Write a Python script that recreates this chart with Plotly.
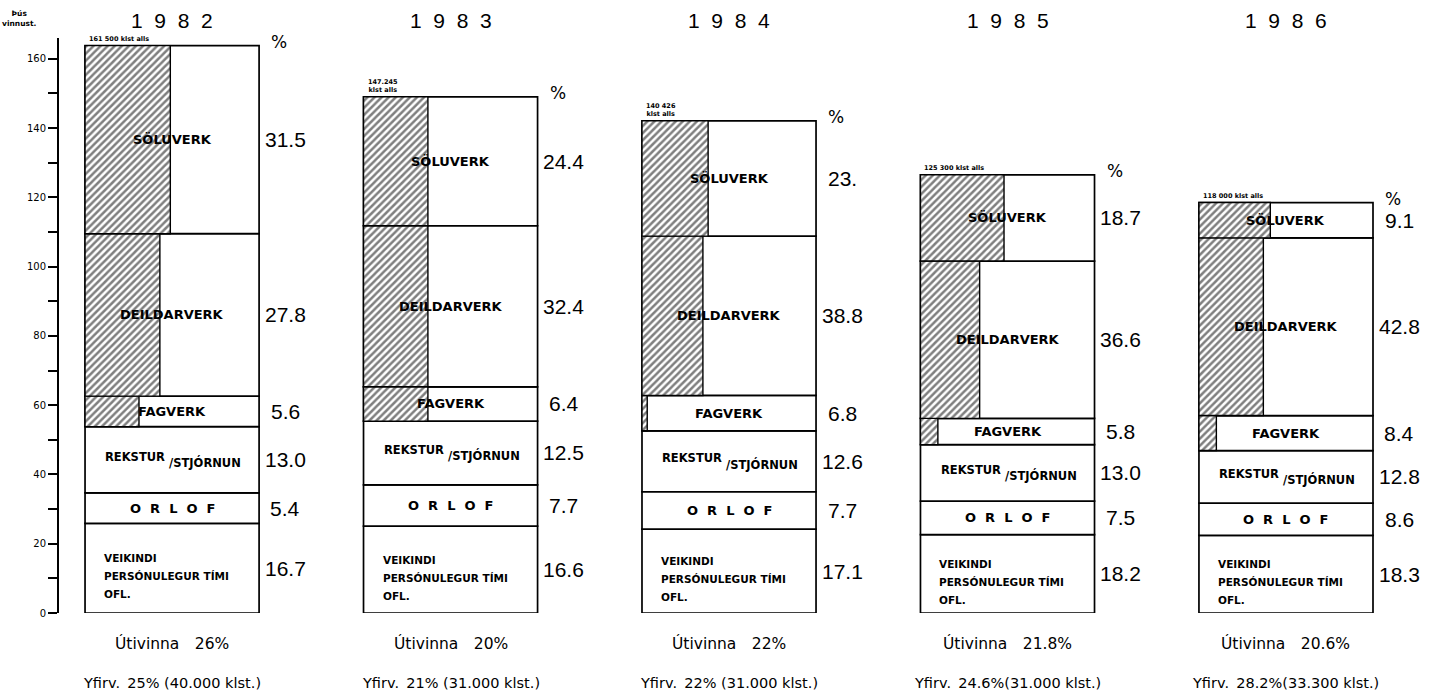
import plotly.graph_objects as go

# ---------------- data ----------------
years = [1982, 1983, 1984, 1985, 1986]

# segment heights, thousand work hours (bottom -> top)
veikindi = [25.9, 25.1, 24.2, 22.6, 22.4]
orlof = [8.8, 11.9, 10.8, 9.7, 9.3]
rekstur = [19.1, 18.4, 17.6, 16.3, 15.2]
fagverk = [8.8, 9.9, 10.2, 7.6, 10.1]
deildarverk = [46.9, 46.5, 46.0, 45.4, 51.3]
soluverk = [54.3, 37.2, 33.3, 24.9, 10.2]

# hatched (left) share of each split segment
fag_hatch = [0.31, 0.37, 0.03, 0.10, 0.10]
deild_hatch = [0.43, 0.37, 0.35, 0.34, 0.37]
sol_hatch = [0.49, 0.37, 0.38, 0.48, 0.41]

# percentage labels printed right of each bar
pct_veik = ["16.7", "16.6", "17.1", "18.2", "18.3"]
pct_orlof = ["5.4", "7.7", "7.7", "7.5", "8.6"]
pct_rek = ["13.0", "12.5", "12.6", "13.0", "12.8"]
pct_fag = ["5.6", "6.4", "6.8", "5.8", "8.4"]
pct_deild = ["27.8", "32.4", "38.8", "36.6", "42.8"]
pct_sol = ["31.5", "24.4", "23.", "18.7", "9.1"]

total_labels = ["161 500 klst alls", "147.245<br>klst alls", "140 426<br>klst alls",
                "125 300 klst alls", "118 000 klst alls"]
utivinna = ["26%", "20%", "22%", "21.8%", "20.6%"]
yfirv = ["25% (40.000 klst.)", "21% (31.000 klst.)", "22% (31.000 klst.)",
         "24.6%(31.000 klst.)", "28.2%(33.300 klst.)"]

y_ticks = [0, 20, 40, 60, 80, 100, 120, 140, 160]

# ---------------- figure ----------------
W = 0.625
segments = [
    ("VEIKINDI", veikindi, None, pct_veik),
    ("ORLOF", orlof, None, pct_orlof),
    ("REKSTUR/STJÓRNUN", rekstur, None, pct_rek),
    ("FAGVERK", fagverk, fag_hatch, pct_fag),
    ("DEILDARVERK", deildarverk, deild_hatch, pct_deild),
    ("SÖLUVERK", soluverk, sol_hatch, pct_sol),
]

bases = []
run = [0.0] * len(years)
for name, vals, _, _ in segments:
    bases.append(list(run))
    run = [r + v for r, v in zip(run, vals)]
tops = run

fig = go.Figure()
for (name, vals, hatch, _), base in zip(segments, bases):
    fig.add_trace(go.Bar(
        x=years, y=vals, base=base, width=W, name=name,
        marker=dict(color="white", line=dict(color="black", width=1.7)),
        hoverinfo="skip", showlegend=False))
for (name, vals, hatch, _), base in zip(segments, bases):
    if hatch is None:
        continue
    fig.add_trace(go.Bar(
        x=years, y=vals, base=base,
        width=[W * f for f in hatch], offset=[-W / 2] * len(years),
        marker=dict(color="white",
                    pattern=dict(shape="/", fgcolor="black", bgcolor="white",
                                 size=5, solidity=0.5),
                    line=dict(color="black", width=1.4)),
        hoverinfo="skip", showlegend=False))

ann = []
LBL = dict(family="DejaVu Sans", size=13, color="black")
PCT = dict(family="Liberation Sans", size=21, color="black")
FS = "\u2007"

for i, yr in enumerate(years):
    for (name, vals, hatch, pcts), base in zip(segments, bases):
        mid = base[i] + vals[i] / 2
        # percentage at right
        ann.append(dict(x=yr + W / 2, y=mid, xref="x", yref="y", text=pcts[i],
                        showarrow=False, xanchor="center", xshift=26, font=PCT))
        if name == "VEIKINDI":
            for txt, ys in (("VEIKINDI", 10), ("PERSÓNULEGUR TÍMI", -8), ("OFL.", -26)):
                ann.append(dict(x=yr - W / 2, y=mid, xref="x", yref="y",
                                text="<b>" + txt + "</b>", showarrow=False,
                                xanchor="left", xshift=17, yshift=ys,
                                font=dict(family="DejaVu Sans", size=10.5, color="black")))
        elif name == "ORLOF":
            ann.append(dict(x=yr, y=mid, xref="x", yref="y",
                            text="<b>" + FS.join("ORLOF") + "</b>", showarrow=False,
                            font=LBL))
        elif name == "REKSTUR/STJÓRNUN":
            a, b = name.split("/")
            ann.append(dict(x=yr, y=mid, xref="x", yref="y", text="<b>" + a + "</b>",
                            showarrow=False, xanchor="right", xshift=-5, yshift=3,
                            font=dict(family="DejaVu Sans", size=11.5, color="black")))
            ann.append(dict(x=yr, y=mid, xref="x", yref="y", text="<b>/" + b + "</b>",
                            showarrow=False, xanchor="left", xshift=-5, yshift=-3,
                            font=dict(family="DejaVu Sans", size=11.5, color="black")))
        else:
            ann.append(dict(x=yr, y=mid, xref="x", yref="y", text="<b>" + name + "</b>",
                            showarrow=False, font=LBL))
    # "%" header
    ann.append(dict(x=yr + W / 2, y=tops[i], xref="x", yref="y", text="%",
                    showarrow=False, xanchor="center", xshift=20, yshift=4,
                    font=dict(family="DejaVu Sans", size=17, color="black")))
    # total label
    ann.append(dict(x=yr - W / 2, y=tops[i], xref="x", yref="y",
                    text="<b>" + total_labels[i] + "</b>", showarrow=False,
                    xanchor="left", yanchor="bottom", xshift=2, yshift=1,
                    font=dict(family="DejaVu Sans", size=6.5, color="black")))
    # year title
    ann.append(dict(x=yr, y=1, xref="x", yref="paper", text=FS.join(str(yr)),
                    showarrow=False, yanchor="middle", yshift=18,
                    font=dict(family="Liberation Sans", size=21, color="black")))
    # bottom texts
    ann.append(dict(x=yr, y=0, xref="x", yref="y", text="Útivinna\u2003" + utivinna[i],
                    showarrow=False, yanchor="middle", yshift=-30,
                    font=dict(family="DejaVu Sans", size=15.5, color="black")))
    ann.append(dict(x=yr, y=0, xref="x", yref="y", text="Yfirv.\u2002" + yfirv[i],
                    showarrow=False, yanchor="middle", yshift=-70,
                    font=dict(family="DejaVu Sans", size=14.5, color="black")))

ann.append(dict(x=0, y=1, xref="paper", yref="paper", text="<b>Þús<br>vinnust.</b>",
                showarrow=False, xanchor="right", yanchor="bottom", xshift=-20, yshift=8,
                font=dict(family="DejaVu Sans", size=7.5, color="black")))

fig.update_layout(
    width=1438, height=697,
    margin=dict(l=59, r=10, t=38, b=84),
    paper_bgcolor="white", plot_bgcolor="white",
    barmode="overlay", bargap=0, showlegend=False,
    annotations=ann,
    xaxis=dict(range=[1981.594, 1986.51], visible=False, fixedrange=True),
    yaxis=dict(range=[0, 166], showgrid=False, zeroline=False,
               showline=True, linecolor="black", linewidth=2,
               ticks="outside", ticklen=9, tickwidth=2, tickcolor="black",
               tickvals=y_ticks, ticktext=[str(v) for v in y_ticks],
               tickfont=dict(family="DejaVu Sans", size=10, color="black"),
               minor=dict(dtick=10, ticks="outside", ticklen=9, tickwidth=2,
                          tickcolor="black"),
               fixedrange=True),
)

fig.write_html("out.html", config={"displayModeBar": False, "staticPlot": True},
               post_script="document.body.style.margin='0';")
